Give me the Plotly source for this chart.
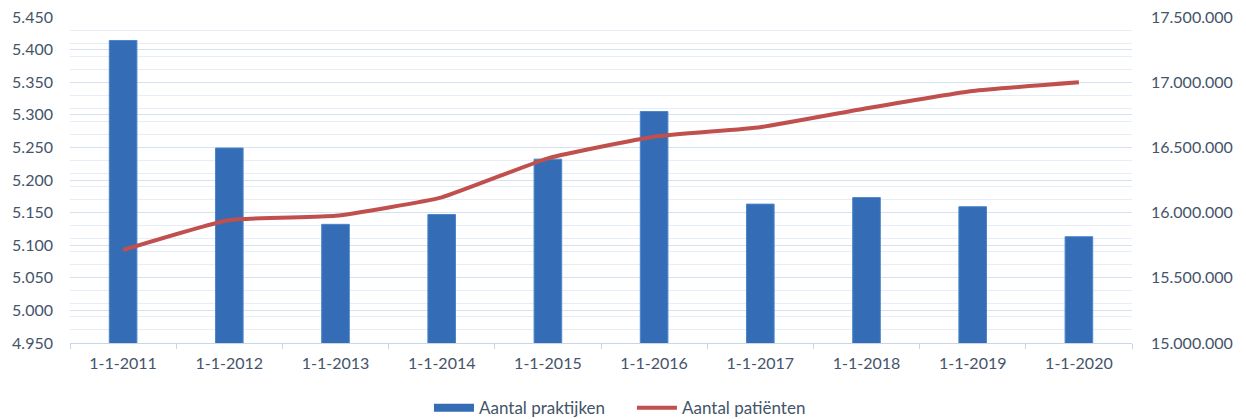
import plotly.graph_objects as go

dates = ["1-1-2011", "1-1-2012", "1-1-2013", "1-1-2014", "1-1-2015",
         "1-1-2016", "1-1-2017", "1-1-2018", "1-1-2019", "1-1-2020"]
praktijken = [5414, 5249, 5132, 5147, 5232, 5305, 5163, 5173, 5159, 5113]
patienten = [15713000, 15943000, 15975000, 16117000, 16416000,
             16582000, 16655000, 16800000, 16933000, 16999000]

left_ticks = [4950 + 50 * i for i in range(11)]
right_ticks = [15000000 + 500000 * i for i in range(6)]

# Dutch number formatting: dot as thousands separator
def nl(v):
    return f"{v:,.0f}".replace(",", ".")

BLUE = "#346CB5"
RED = "#C0504D"
font = dict(family="Lato, 'Open Sans', sans-serif", size=16, color="#44546A")

fig = go.Figure()
fig.add_trace(go.Bar(
    x=dates, y=praktijken, name="Aantal praktijken", showlegend=False,
    marker=dict(color=BLUE, line=dict(color="#4A86CC", width=1)),
))
fig.add_trace(go.Scatter(
    x=dates, y=patienten, name="Aantal patiënten", yaxis="y2", showlegend=False,
    mode="lines", line=dict(color=RED, width=4, shape="spline", smoothing=0.4),
))
# legend entries (wide blue block for the bars, red line for the line)
fig.add_trace(go.Scatter(x=[None], y=[None], name="Aantal praktijken", mode="lines",
                         line=dict(color=BLUE, width=8)))
fig.add_trace(go.Scatter(x=[None], y=[None], name="Aantal patiënten", mode="lines",
                         line=dict(color=RED, width=4)))

# page body has an 8px margin, so the figure is a bit smaller than the window
fig.update_layout(
    width=1238, height=411,
    margin=dict(l=62, r=114, t=9, b=76, autoexpand=False),
    paper_bgcolor="white", plot_bgcolor="white",
    font=font,
    bargap=0.74,
    showlegend=True,
    legend=dict(orientation="h", x=0.338, xanchor="left", y=-0.2, yanchor="middle",
                font=dict(size=17, color="#44546A"), itemwidth=40, tracegroupgap=0,
                entrywidth=148),
    xaxis=dict(
        type="category", showgrid=False, showline=True, linecolor="#C9D6E8", linewidth=1,
        ticks="outside", tickson="boundaries", ticklen=5, tickcolor="#C9D6E8",
        ticklabelstandoff=6,
    ),
    yaxis=dict(
        range=[4950, 5450], tickvals=left_ticks, ticktext=[f"{v / 1000:.3f}" for v in left_ticks],
        showgrid=True, gridcolor="#D6E2F2", gridwidth=1, zeroline=False,
        showline=False, ticks="", ticklabelstandoff=16, ticklabeloverflow="allow",
    ),
    yaxis2=dict(
        range=[15000000, 17500000], tickvals=right_ticks, ticktext=[nl(v) for v in right_ticks],
        overlaying="y", side="right", showgrid=True, gridcolor="#D6E2F2", zeroline=False,
        minor=dict(dtick=100000, showgrid=True, gridcolor="#E6EDF7", gridwidth=1),
        showline=False, ticks="", ticklabelstandoff=18, ticklabeloverflow="allow",
    ),
)

fig.write_html("out.html")
